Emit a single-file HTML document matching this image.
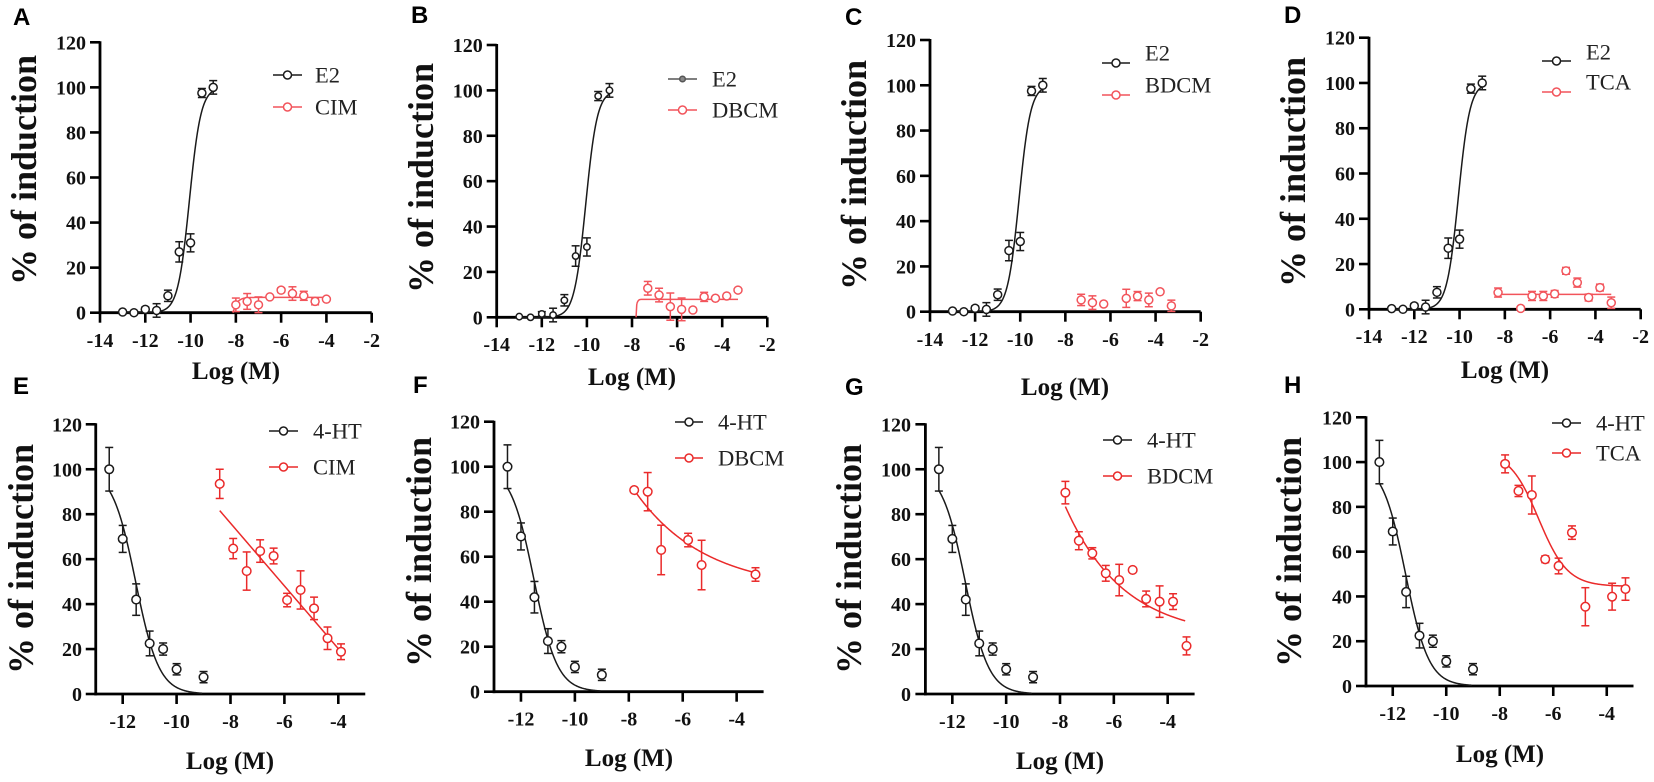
<!DOCTYPE html>
<html><head><meta charset="utf-8"><style>
html,body{margin:0;padding:0;background:#fff;}
svg{display:block;}
.t{font-family:"Liberation Serif",serif;font-weight:bold;font-size:20px;fill:#111;}
.yl{font-family:"Liberation Serif",serif;font-weight:bold;font-size:36px;fill:#111;}
.xl{font-family:"Liberation Serif",serif;font-weight:bold;font-size:25px;fill:#111;}
.lg{font-family:"Liberation Serif",serif;font-size:22.5px;fill:#222;}
.pl{font-family:"Liberation Sans",sans-serif;font-weight:bold;font-size:24px;fill:#000;}
</style></head><body>
<svg id="s" xmlns="http://www.w3.org/2000/svg" width="1654" height="782" viewBox="0 0 1654 782">
<rect width="1654" height="782" fill="#fff"/>
<g id="g"></g>
<!-- panel letters -->
<text class="pl" x="13" y="25">A</text>
<text class="pl" x="411" y="23">B</text>
<text class="pl" x="845" y="25">C</text>
<text class="pl" x="1284" y="23">D</text>
<text class="pl" x="13" y="394">E</text>
<text class="pl" x="413" y="393">F</text>
<text class="pl" x="845" y="395">G</text>
<text class="pl" x="1284" y="393">H</text>
<!-- y titles -->
<text class="yl" text-anchor="middle" transform="translate(36,170) rotate(-90)">% of induction</text>
<text class="yl" text-anchor="middle" transform="translate(433,178) rotate(-90)">% of induction</text>
<text class="yl" text-anchor="middle" transform="translate(866,175) rotate(-90)">% of induction</text>
<text class="yl" text-anchor="middle" transform="translate(1305,172) rotate(-90)">% of induction</text>
<text class="yl" text-anchor="middle" transform="translate(33,559) rotate(-90)">% of induction</text>
<text class="yl" text-anchor="middle" transform="translate(431,552) rotate(-90)">% of induction</text>
<text class="yl" text-anchor="middle" transform="translate(861,559) rotate(-90)">% of induction</text>
<text class="yl" text-anchor="middle" transform="translate(1301,552) rotate(-90)">% of induction</text>
<!-- x titles -->
<text class="xl" text-anchor="middle" x="236" y="379">Log (M)</text>
<text class="xl" text-anchor="middle" x="632" y="385">Log (M)</text>
<text class="xl" text-anchor="middle" x="1065" y="395">Log (M)</text>
<text class="xl" text-anchor="middle" x="1505" y="378">Log (M)</text>
<text class="xl" text-anchor="middle" x="230" y="769">Log (M)</text>
<text class="xl" text-anchor="middle" x="629" y="766">Log (M)</text>
<text class="xl" text-anchor="middle" x="1060" y="769">Log (M)</text>
<text class="xl" text-anchor="middle" x="1500" y="762">Log (M)</text>
<!-- y tick labels -->
<g class="t" text-anchor="end">
<text x="86" y="319.7">0</text><text x="86" y="274.6">20</text><text x="86" y="229.6">40</text><text x="86" y="184.5">60</text><text x="86" y="139.4">80</text><text x="86" y="94.4">100</text><text x="86" y="49.3">120</text>
<text x="482.7" y="324.3">0</text><text x="482.7" y="278.9">20</text><text x="482.7" y="233.5">40</text><text x="482.7" y="188.2">60</text><text x="482.7" y="142.8">80</text><text x="482.7" y="97.4">100</text><text x="482.7" y="52">120</text>
<text x="916" y="318.7">0</text><text x="916" y="273.4">20</text><text x="916" y="228.1">40</text><text x="916" y="182.9">60</text><text x="916" y="137.6">80</text><text x="916" y="92.3">100</text><text x="916" y="47">120</text>
<text x="1355" y="316.3">0</text><text x="1355" y="271">20</text><text x="1355" y="225.8">40</text><text x="1355" y="180.5">60</text><text x="1355" y="135.2">80</text><text x="1355" y="90">100</text><text x="1355" y="44.7">120</text>
<text x="82" y="701">0</text><text x="82" y="656.1">20</text><text x="82" y="611.1">40</text><text x="82" y="566.2">60</text><text x="82" y="521.2">80</text><text x="82" y="476.3">100</text><text x="82" y="431.3">120</text>
<text x="480" y="698.7">0</text><text x="480" y="653.7">20</text><text x="480" y="608.7">40</text><text x="480" y="563.7">60</text><text x="480" y="518.7">80</text><text x="480" y="473.7">100</text><text x="480" y="428.7">120</text>
<text x="911" y="701">0</text><text x="911" y="656.1">20</text><text x="911" y="611.1">40</text><text x="911" y="566.2">60</text><text x="911" y="521.2">80</text><text x="911" y="476.3">100</text><text x="911" y="431.3">120</text>
<text x="1352" y="693">0</text><text x="1352" y="648.2">20</text><text x="1352" y="603.4">40</text><text x="1352" y="558.7">60</text><text x="1352" y="513.9">80</text><text x="1352" y="469.1">100</text><text x="1352" y="424.3">120</text>
</g>
<!-- x tick labels -->
<g class="t" text-anchor="middle">
<text x="100" y="347">-14</text><text x="145.3" y="347">-12</text><text x="190.6" y="347">-10</text><text x="235.9" y="347">-8</text><text x="281.1" y="347">-6</text><text x="326.4" y="347">-4</text><text x="371.7" y="347">-2</text>
<text x="496.7" y="351">-14</text><text x="541.8" y="351">-12</text><text x="586.9" y="351">-10</text><text x="632" y="351">-8</text><text x="677.1" y="351">-6</text><text x="722.2" y="351">-4</text><text x="767.3" y="351">-2</text>
<text x="930" y="346">-14</text><text x="975.1" y="346">-12</text><text x="1020.2" y="346">-10</text><text x="1065.4" y="346">-8</text><text x="1110.5" y="346">-6</text><text x="1155.6" y="346">-4</text><text x="1200.7" y="346">-2</text>
<text x="1369" y="343">-14</text><text x="1414.3" y="343">-12</text><text x="1459.6" y="343">-10</text><text x="1504.9" y="343">-8</text><text x="1550.1" y="343">-6</text><text x="1595.4" y="343">-4</text><text x="1640.7" y="343">-2</text>
<text x="122.7" y="728">-12</text><text x="176.6" y="728">-10</text><text x="230.5" y="728">-8</text><text x="284.4" y="728">-6</text><text x="338.3" y="728">-4</text>
<text x="521" y="725.7">-12</text><text x="574.9" y="725.7">-10</text><text x="628.9" y="725.7">-8</text><text x="682.8" y="725.7">-6</text><text x="736.7" y="725.7">-4</text>
<text x="952.3" y="728">-12</text><text x="1006.2" y="728">-10</text><text x="1060" y="728">-8</text><text x="1113.9" y="728">-6</text><text x="1167.7" y="728">-4</text>
<text x="1392.7" y="720">-12</text><text x="1446.2" y="720">-10</text><text x="1499.7" y="720">-8</text><text x="1553.2" y="720">-6</text><text x="1606.7" y="720">-4</text>
</g>
<!-- legend texts -->
<g class="lg">
<text x="315" y="82.5">E2</text><text x="315" y="114.5">CIM</text>
<text x="712" y="86.5">E2</text><text x="712" y="117.5">DBCM</text>
<text x="1145" y="60.5">E2</text><text x="1145" y="92.5">BDCM</text>
<text x="1586" y="59.5">E2</text><text x="1586" y="89.5">TCA</text>
<text x="313" y="438.5">4-HT</text><text x="313" y="474.5">CIM</text>
<text x="718" y="429.5">4-HT</text><text x="718" y="465.5">DBCM</text>
<text x="1147" y="447.5">4-HT</text><text x="1147" y="483.5">BDCM</text>
<text x="1596" y="430.5">4-HT</text><text x="1596" y="460.5">TCA</text>
</g>
</svg>
<script>
(function(){
var NS="http://www.w3.org/2000/svg", G=document.getElementById("g");
function el(n,a){var e=document.createElementNS(NS,n);for(var k in a)e.setAttribute(k,a[k]);G.appendChild(e);return e;}
var RT="#f2545b", RB="#ea2a2a", K="#1a1a1a";
var P={
A:{x0:100,x1:371.7,xmin:-14,xmax:-2,y0:312.7,y1:42.3,top:1},
B:{x0:496.7,x1:767.3,xmin:-14,xmax:-2,y0:317.3,y1:45,top:1},
C:{x0:930,x1:1200.7,xmin:-14,xmax:-2,y0:311.7,y1:40,top:1},
D:{x0:1369,x1:1640.7,xmin:-14,xmax:-2,y0:309.3,y1:37.7,top:1},
E:{x0:95.75,x1:365.25,xmin:-13,xmax:-3,y0:694,y1:424.3,top:0},
F:{x0:494,x1:763.6,xmin:-13,xmax:-3,y0:691.7,y1:421.7,top:0},
G:{x0:925.4,x1:1194.6,xmin:-13,xmax:-3,y0:694,y1:424.3,top:0},
H:{x0:1366,x1:1633.5,xmin:-13,xmax:-3,y0:686,y1:417.3,top:0}
};
function X(p,v){return p.x0+(v-p.xmin)*(p.x1-p.x0)/(p.xmax-p.xmin);}
function Y(p,v){return p.y0-v*(p.y0-p.y1)/120;}
// axes
for(var k in P){var p=P[k];
 el("line",{x1:p.x0,y1:p.y1-1,x2:p.x0,y2:p.y0+1.4,stroke:"#000","stroke-width":2.8});
 el("line",{x1:p.x0-1.4,y1:p.y0,x2:p.x1,y2:p.y0,stroke:"#000","stroke-width":2.8});
 for(var v=0;v<=120;v+=20){var y=Y(p,v);el("line",{x1:p.x0-10,y1:y,x2:p.x0,y2:y,stroke:"#000","stroke-width":2.6});}
 var ts=p.top?[-14,-12,-10,-8,-6,-4,-2]:[-12,-10,-8,-6,-4];
 ts.forEach(function(t){var x=X(p,t);el("line",{x1:x,y1:p.y0,x2:x,y2:p.y0+10,stroke:"#000","stroke-width":2.6});});
}
function curve(p,f,a,b,col){var d="";for(var i=0;i<=200;i++){var x=a+(b-a)*i/200;d+=(i?"L":"M")+X(p,x).toFixed(2)+","+Y(p,f(x)).toFixed(2);}
 el("path",{d:d,fill:"none",stroke:col,"stroke-width":1.5});}
function pts(p,xs,ys,es,col,r){
 for(var i=0;i<xs.length;i++){var x=X(p,xs[i]),y=Y(p,ys[i]),e=es[i];
  if(e>0){var ya=Y(p,ys[i]+e),yb=Y(p,ys[i]-e);
   el("line",{x1:x,y1:ya,x2:x,y2:yb,stroke:col,"stroke-width":1.5});
   el("line",{x1:x-4,y1:ya,x2:x+4,y2:ya,stroke:col,"stroke-width":1.5});
   el("line",{x1:x-4,y1:yb,x2:x+4,y2:yb,stroke:col,"stroke-width":1.5});}
 }
 for(var i=0;i<xs.length;i++){el("circle",{cx:X(p,xs[i]),cy:Y(p,ys[i]),r:r||4,fill:"#fff",stroke:col,"stroke-width":1.5});}
}
function leg(x1,x2,y,col,r,fill){el("line",{x1:x1,y1:y,x2:x2,y2:y,stroke:col,"stroke-width":1.5});
 el("circle",{cx:(x1+x2)/2,cy:y,r:r||4,fill:fill||"#fff",stroke:col,"stroke-width":1.5});}
// E2 data
var ex=[-13,-12.5,-12,-11.5,-11,-10.5,-10,-9.5,-9],ey=[0.3,0,1.5,1,7.5,27,31,97.5,100],ee=[0,0,1,3,2.5,4.5,4,2,3];
var fE2=function(x){return 100/(1+Math.pow(10,(-10.05-x)*1.7));};
["A","B","C","D"].forEach(function(k){curve(P[k],fE2,-13,-9,K);pts(P[k],ex,ey,ee,K,k=="B"?3.2:4);});
// 4-HT
var hx=[-12.5,-12,-11.5,-11,-10.5,-10,-9],hy=[100,69,42,22.5,20,11,7.5],he=[9.7,6,7,5.5,2.7,2.5,2.5];
var fH=function(x){return 100/(1+Math.pow(10,(x+11.52)*1.0));};
["E","F","G","H"].forEach(function(k){curve(P[k],fH,-12.5,-9.05,K);pts(P[k],hx,hy,he,K,4.3);});
// A CIM
curve(P.A,function(x){return 6.8*(1-Math.exp(-(x+8.12)*6));},-8.12,-4,RT);
pts(P.A,[-8,-7.5,-7,-6.5,-6,-5.5,-5,-4.5,-4],[3.5,5,3.5,7,10,8.5,7.5,5,6],[3,3.5,3.5,0,1,3,2,1.5,0],RT,4);
// B DBCM
(function(){var p=P.B;el("path",{d:"M"+X(p,-7.82)+","+Y(p,0)+"L"+X(p,-7.79)+","+Y(p,5.5)+"Q"+X(p,-7.76)+","+Y(p,7.9)+" "+X(p,-7.6)+","+Y(p,7.9)+"L"+X(p,-3.3)+","+Y(p,7.9),fill:"none",stroke:RT,"stroke-width":1.5});})();
pts(P.B,[-7.3,-6.8,-6.3,-5.8,-5.3,-4.8,-4.3,-3.8,-3.3],[12.8,9.8,4.7,3.5,3.2,9,8.4,9.4,12],[3,3,6,5,0,2,0,0,0],RT,4);
// C BDCM
pts(P.C,[-7.3,-6.8,-6.3,-5.3,-4.8,-4.3,-3.8,-3.3],[5.2,4,3.4,5.9,6.9,5.2,8.8,2.6],[2.5,3,0,4,2,3,0,2.5],RT,4);
// D TCA
curve(P.D,function(){return 6.6;},-8.3,-3.3,RT);
pts(P.D,[-8.3,-7.3,-6.8,-6.3,-5.8,-5.3,-4.8,-4.3,-3.8,-3.3],[7.4,0.4,5.9,5.9,6.8,17,11.8,5.2,9.6,2.9],[2,0,2,2,1.5,1.5,2,1.5,1.5,2.5],RT,4);
// E CIM
curve(P.E,function(x){return 81.6-13.96*(x+8.4);},-8.4,-4.0,RB);
pts(P.E,[-8.4,-7.9,-7.4,-6.9,-6.4,-5.9,-5.4,-4.9,-4.4,-3.9],[93.5,64.7,54.7,63.6,61.4,41.8,46.3,38.1,24.8,18.8],[6.5,4.5,8.5,5,3.5,3,8.5,5,5,3.5],RB,4.3);
// F DBCM
curve(P.F,function(x){return 45+44.6*Math.exp(-0.386*(x+7.8));},-7.8,-3.3,RB);
pts(P.F,[-7.8,-7.3,-6.8,-5.8,-5.3,-3.3],[89.6,88.9,63,67.4,56.3,52.1],[0,8.5,11,3,11,3],RB,4.3);
// G BDCM
curve(P.G,function(x){return 25+58.4*Math.exp(-0.46*(x+7.8));},-7.8,-3.35,RB);
pts(P.G,[-7.8,-7.3,-6.8,-6.3,-5.8,-5.3,-4.8,-4.3,-3.8,-3.3],[89.6,68.2,62.6,53.7,50.7,55.2,42.3,41.1,41.1,21.4],[5,4,2.5,3.5,7,0,3.5,7,3.5,4],RB,4.3);
// H TCA
curve(P.H,function(x){return 44.5+60.5/(1+Math.pow(10,(x+6.55)*0.8));},-7.8,-3.3,RB);
pts(P.H,[-7.8,-7.3,-6.8,-6.3,-5.8,-5.3,-4.8,-3.8,-3.3],[99.2,87.1,85.3,56.6,53.6,68.5,35.4,39.9,43.3],[4,2.5,8.5,1.5,3.5,3,8.5,6,5],RB,4.3);
// legends
leg(273,302,75,K);leg(273,302,107,RT);
leg(668,697,79,"#555",2.8,"#888");leg(668,697,110,RT);
leg(1102,1130,63,K);leg(1102,1130,95,RT);
leg(1542,1571,61,K);leg(1542,1571,92,RT);
leg(269,298,431,K);leg(269,298,467,RB);
leg(675,703,422,K);leg(675,703,458,RB);
leg(1103,1132,440,K);leg(1103,1132,476,RB);
leg(1552,1581,423,K);leg(1552,1581,453,RB);
})();
</script>
</body></html>
